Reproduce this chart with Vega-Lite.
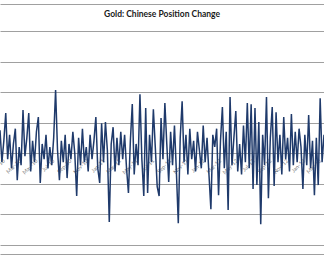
{
  "$schema": "https://vega.github.io/schema/vega-lite/v6.json",
  "width": 324,
  "height": 250,
  "autosize": {"type": "none"},
  "padding": {"top": 4, "left": 0, "right": 0, "bottom": 10},
  "background": "white",
  "config": {"view": {"stroke": null}},
  "title": {"text": "Gold: Chinese Position Change", "font": "Lato", "fontSize": 8.5, "fontWeight": "bold", "color": "#1a1a1a", "anchor": "middle", "frame": "group", "offset": -14.5},
  "data": {"values": [
    {"d":"2009-12-25","v":7.5},{"d":"2010-01-01","v":-3},{"d":"2010-01-08","v":4},{"d":"2010-01-15","v":13.1},{"d":"2010-01-22","v":-2},{"d":"2010-01-29","v":6},{"d":"2010-02-05","v":-5},{"d":"2010-02-12","v":3},{"d":"2010-02-19","v":8},{"d":"2010-02-26","v":-8.9},
    {"d":"2010-03-05","v":2},{"d":"2010-03-12","v":-4},{"d":"2010-03-19","v":14.1},{"d":"2010-03-26","v":-1},{"d":"2010-04-02","v":5},{"d":"2010-04-09","v":13.1},{"d":"2010-04-16","v":-6},{"d":"2010-04-23","v":4},{"d":"2010-04-30","v":-3},{"d":"2010-05-07","v":7},
    {"d":"2010-05-14","v":11.8},{"d":"2010-05-21","v":-9.8},{"d":"2010-05-28","v":3},{"d":"2010-06-04","v":-2},{"d":"2010-06-11","v":6},{"d":"2010-06-18","v":-5},{"d":"2010-06-25","v":2},{"d":"2010-07-02","v":-4},{"d":"2010-07-09","v":5},{"d":"2010-07-16","v":20.7},
    {"d":"2010-07-23","v":1},{"d":"2010-07-30","v":-8.9},{"d":"2010-08-06","v":4},{"d":"2010-08-13","v":-3},{"d":"2010-08-20","v":6},{"d":"2010-08-27","v":-8.2},{"d":"2010-09-03","v":3},{"d":"2010-09-10","v":-2},{"d":"2010-09-17","v":7},{"d":"2010-09-24","v":0},
    {"d":"2010-10-01","v":-14.1},{"d":"2010-10-08","v":5},{"d":"2010-10-15","v":-4},{"d":"2010-10-22","v":8},{"d":"2010-10-29","v":-3},{"d":"2010-11-05","v":2},{"d":"2010-11-12","v":-6},{"d":"2010-11-19","v":6},{"d":"2010-11-26","v":-2},{"d":"2010-12-03","v":4},
    {"d":"2010-12-10","v":11.8},{"d":"2010-12-17","v":-5},{"d":"2010-12-24","v":-9.8},{"d":"2010-12-31","v":9.8},{"d":"2011-01-07","v":-3},{"d":"2011-01-14","v":10.2},{"d":"2011-01-21","v":1},{"d":"2011-01-28","v":-22.6},{"d":"2011-02-04","v":3},{"d":"2011-02-11","v":8.5},
    {"d":"2011-02-18","v":-6},{"d":"2011-02-25","v":5},{"d":"2011-03-04","v":-4},{"d":"2011-03-11","v":7},{"d":"2011-03-18","v":-2},{"d":"2011-03-25","v":6},{"d":"2011-04-01","v":-5},{"d":"2011-04-08","v":-13.1},{"d":"2011-04-15","v":4},{"d":"2011-04-22","v":16.1},
    {"d":"2011-04-29","v":-7},{"d":"2011-05-06","v":3},{"d":"2011-05-13","v":-4},{"d":"2011-05-20","v":19.3},{"d":"2011-05-27","v":-2},{"d":"2011-06-03","v":-14.1},{"d":"2011-06-10","v":14.8},{"d":"2011-06-17","v":-13.1},{"d":"2011-06-24","v":6},{"d":"2011-07-01","v":-3},
    {"d":"2011-07-08","v":14.4},{"d":"2011-07-15","v":2},{"d":"2011-07-22","v":-11},{"d":"2011-07-29","v":-14.1},{"d":"2011-08-05","v":11.5},{"d":"2011-08-12","v":-2},{"d":"2011-08-19","v":16.4},{"d":"2011-08-26","v":3},{"d":"2011-09-02","v":-9.5},{"d":"2011-09-09","v":7},
    {"d":"2011-09-16","v":-4},{"d":"2011-09-23","v":9},{"d":"2011-09-30","v":-6},{"d":"2011-10-07","v":-23},{"d":"2011-10-14","v":5},{"d":"2011-10-21","v":17},{"d":"2011-10-28","v":-3},{"d":"2011-11-04","v":6},{"d":"2011-11-11","v":-7},{"d":"2011-11-18","v":8},
    {"d":"2011-11-25","v":-2},{"d":"2011-12-02","v":4},{"d":"2011-12-09","v":-6},{"d":"2011-12-16","v":7},{"d":"2011-12-23","v":1},{"d":"2011-12-30","v":-5},{"d":"2012-01-06","v":9},{"d":"2012-01-13","v":-3},{"d":"2012-01-20","v":5},{"d":"2012-01-27","v":-7},
    {"d":"2012-02-03","v":-18.4},{"d":"2012-02-10","v":6},{"d":"2012-02-17","v":2},{"d":"2012-02-24","v":8},{"d":"2012-03-02","v":-13.8},{"d":"2012-03-09","v":4},{"d":"2012-03-16","v":15.1},{"d":"2012-03-23","v":-5},{"d":"2012-03-30","v":7},{"d":"2012-04-06","v":-18.7},
    {"d":"2012-04-13","v":18.4},{"d":"2012-04-20","v":-4},{"d":"2012-04-27","v":5},{"d":"2012-05-04","v":13.8},{"d":"2012-05-11","v":-6},{"d":"2012-05-18","v":3},{"d":"2012-05-25","v":-7},{"d":"2012-06-01","v":9},{"d":"2012-06-08","v":-3},{"d":"2012-06-15","v":16.4},
    {"d":"2012-06-22","v":-5},{"d":"2012-06-29","v":16},{"d":"2012-07-06","v":-11.8},{"d":"2012-07-13","v":14.8},{"d":"2012-07-20","v":-10.5},{"d":"2012-07-27","v":10.2},{"d":"2012-08-03","v":-23.3},{"d":"2012-08-10","v":6},{"d":"2012-08-17","v":-4},{"d":"2012-08-24","v":18.4},
    {"d":"2012-08-31","v":-14.8},{"d":"2012-09-07","v":5},{"d":"2012-09-14","v":15.1},{"d":"2012-09-21","v":-10.8},{"d":"2012-09-28","v":13.4},{"d":"2012-10-05","v":-3},{"d":"2012-10-12","v":6},{"d":"2012-10-19","v":-7},{"d":"2012-10-26","v":11.8},{"d":"2012-11-02","v":-2},
    {"d":"2012-11-09","v":5},{"d":"2012-11-16","v":-6},{"d":"2012-11-23","v":12.8},{"d":"2012-11-30","v":-4},{"d":"2012-12-07","v":7},{"d":"2012-12-14","v":-3},{"d":"2012-12-21","v":8},{"d":"2012-12-28","v":2},{"d":"2013-01-04","v":-11.8},{"d":"2013-01-11","v":6},
    {"d":"2013-01-18","v":-4},{"d":"2013-01-25","v":12.5},{"d":"2013-02-01","v":-5},{"d":"2013-02-08","v":4},{"d":"2013-02-15","v":-13.8},{"d":"2013-02-22","v":5},{"d":"2013-03-01","v":-10.5},{"d":"2013-03-08","v":18},{"d":"2013-03-15","v":-3},{"d":"2013-03-22","v":6}
  ]},
  "mark": {"type": "line", "color": "#1f3a6b", "strokeWidth": 1.5, "clip": true},
  "encoding": {
    "x": {
      "field": "d", "type": "temporal",
      "scale": {"type": "utc", "domain": ["2009-12-25", "2013-03-22"]},
      "axis": {"orient": "bottom", "offset": -101, "domain": false, "ticks": false, "grid": false, "labelAngle": -45, "labelFontSize": 5.5, "labelColor": "#808080", "labelFont": "Lato", "format": "%b-%y", "tickCount": {"interval": "month", "step": 2}, "labelOverlap": false, "labelPadding": 5, "title": null, "zindex": 0}
    },
    "y": {
      "field": "v", "type": "quantitative",
      "scale": {"domain": [-33.1, 48.9], "nice": false, "zero": false},
      "axis": {"values": [-33.1, -30, -20, -10, 0, 10, 20, 30, 40, 48.9], "labels": false, "ticks": false, "domain": false, "grid": true, "gridColor": "#a0a0a0", "gridWidth": 1, "gridOpacity": 1, "title": null}
    }
  }
}
